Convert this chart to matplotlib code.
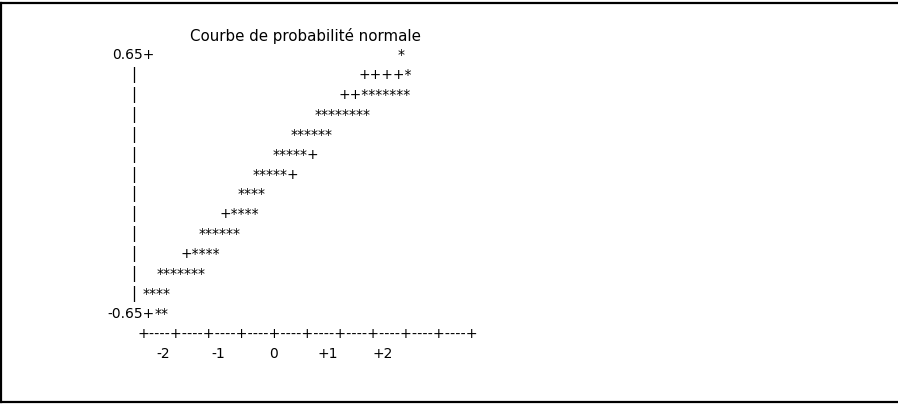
import matplotlib
matplotlib.use('Agg')
import matplotlib.pyplot as plt
from matplotlib.lines import Line2D

# Text-mode normal probability plot (line printer style)
title = "Courbe de probabilité normale"

# each plot row: value level, printed marks, normal quantile where the marks start
row_values = [0.65, 0.55, 0.45, 0.35, 0.25, 0.15, 0.05, -0.05, -0.15, -0.25, -0.35, -0.45, -0.55, -0.65]
row_marks = ["*", "++++*", "++*******", "********", "******", "*****+", "*****+",
             "****", "+****", "******", "+****", "*******", "****", "**"]
row_start_z = [2.27, 1.55, 1.20, 0.76, 0.31, 0.00, -0.38,
               -0.64, -0.98, -1.35, -1.69, -2.11, -2.38, -2.15]

y_labels = ["0.65+", "-0.65+"]
x_ticks = [-2, -1, 0, 1, 2]
x_tick_labels = ["-2", "-1", "0", "+1", "+2"]
axis_rule = "+----" * 10 + "+"

W, H = 898, 404
fig = plt.figure(figsize=(W / 100, H / 100), dpi=100)
ax = fig.add_axes([0, 0, 1, 1])
ax.axis('off')

# pixel mapping: z=0 at x=273, 55 px per unit; v=0.65 at y=59, 199.2 px per unit
px_per_z = 55.0
px_per_v = 199.2
ax.set_xlim(-273 / px_per_z, (W - 273) / px_per_z)
ax.set_ylim(0.65 - (H - 59) / px_per_v, 0.65 + 59 / px_per_v)

font = dict(family='DejaVu Sans', fontsize=10, color='black')

# left column: y labels and vertical rule
ax.text(-2.16, row_values[0], y_labels[0], ha='right', va='baseline', **font)
ax.text(-2.16, row_values[-1], y_labels[1], ha='right', va='baseline', **font)
for v in row_values[1:-1]:
    ax.text(-2.527, v, "|", ha='center', va='baseline', family='DejaVu Sans', fontsize=10.5)

# plotted marks
for v, marks, z in zip(row_values, row_marks, row_start_z):
    ax.text(z, v, marks, ha='left', va='baseline', **font)

# horizontal axis rule and tick labels
rule_y = row_values[-1] - 0.1
ax.text(-2.47, rule_y, axis_rule, ha='left', va='baseline', family='DejaVu Sans', fontsize=10.3)
for z, lab in zip(x_ticks, x_tick_labels):
    ax.text(z, rule_y - 0.1, lab, ha='center', va='baseline', **font)

fig.text(305.5 / W, 1 - 40.5 / H, title, ha='center', va='baseline',
         family='DejaVu Sans', fontsize=10.8)

# frame (right side falls outside the picture)
lw = 1.6
fig.add_artist(Line2D([1.2 / W, 1.2 / W], [1 - 3.2 / H, 1 - 402 / H],
                      transform=fig.transFigure, color='black', lw=lw))
fig.add_artist(Line2D([0, 1], [1 - 3.2 / H, 1 - 3.2 / H],
                      transform=fig.transFigure, color='black', lw=lw))
fig.add_artist(Line2D([0, 1], [1 - 402 / H, 1 - 402 / H],
                      transform=fig.transFigure, color='black', lw=lw))

fig.savefig('out.png', dpi=100, facecolor='white')
